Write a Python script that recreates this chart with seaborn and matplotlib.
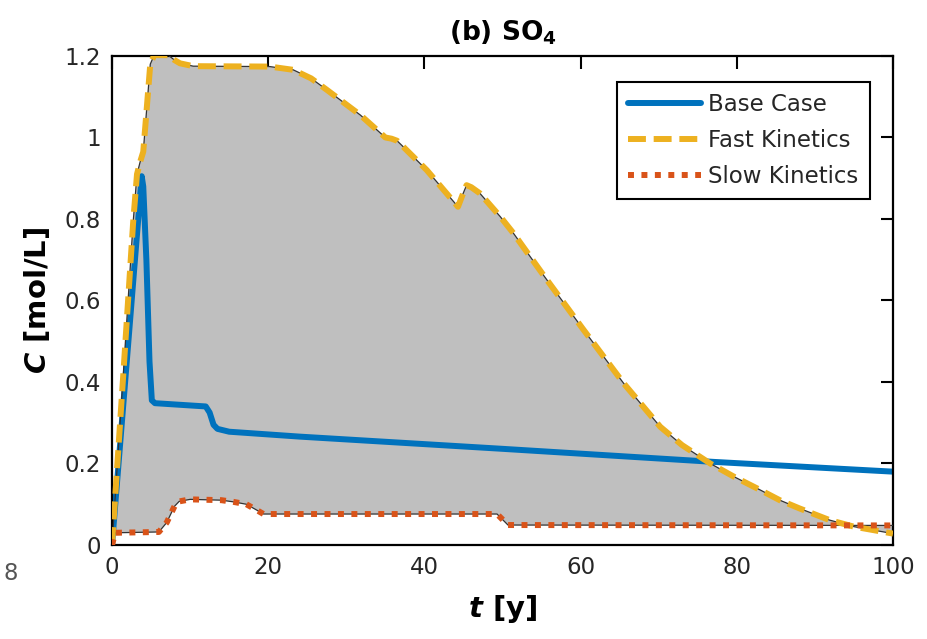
import numpy as np
import matplotlib
matplotlib.use("Agg")
import matplotlib.pyplot as plt
import seaborn as sns
from matplotlib.ticker import FuncFormatter

# ---------------- data ----------------
base_t = [0.0, 3.8, 4.0, 4.4, 4.8, 5.1, 5.5, 12.0, 12.5, 13.0, 13.5, 15.0, 24.0, 50.0, 77.0, 100.0]
base_c = [0.0, 0.905, 0.88, 0.70, 0.45, 0.355, 0.348, 0.340, 0.325, 0.295, 0.285, 0.278, 0.266, 0.236, 0.204, 0.180]

fast_t = [0.0, 1.45, 2.7, 3.2, 3.6, 4.0, 4.4, 4.9, 5.4, 7.2, 8.0, 8.7, 10.4, 20.2, 23.2, 25.5,
          27.5, 31.8, 35.0, 35.8, 36.5, 37.3, 40.3, 44.3, 44.9, 45.4, 46.0, 47.1, 49.7, 51.4,
          55.4, 60.3, 65.5, 70.2, 73.0, 76.6, 79.6, 83.0, 85.5, 88.0, 91.9, 95.0, 100.0]
fast_c = [0.0, 0.42, 0.79, 0.91, 0.94, 0.965, 1.06, 1.18, 1.202, 1.202, 1.19, 1.182, 1.175, 1.174, 1.166, 1.145,
          1.117, 1.055, 1.000, 0.997, 0.992, 0.977, 0.920, 0.830, 0.860, 0.883, 0.878, 0.863, 0.806, 0.765,
          0.658, 0.530, 0.397, 0.290, 0.245, 0.200, 0.168, 0.135, 0.110, 0.090, 0.061, 0.045, 0.028]

slow_t = [0.0, 0.4, 6.0, 7.0, 8.0, 8.6, 10.0, 14.0, 15.5, 17.2, 18.5, 19.4, 49.3, 50.7, 100.0]
slow_c = [0.0, 0.030, 0.032, 0.055, 0.095, 0.107, 0.112, 0.110, 0.106, 0.100, 0.086, 0.076, 0.076, 0.049, 0.048]

labels = ["Base Case", "Fast Kinetics", "Slow Kinetics"]
x_ticks = [0, 20, 40, 60, 80, 100]
y_ticks = [0, 0.2, 0.4, 0.6, 0.8, 1.0, 1.2]

# ---------------- style ----------------
sns.set_style("white")
plt.rcParams["font.family"] = ["DejaVu Sans"]
plt.rcParams["mathtext.fontset"] = "custom"
plt.rcParams["mathtext.rm"] = "DejaVu Sans:bold"
plt.rcParams["mathtext.bf"] = "DejaVu Sans:bold"
plt.rcParams["mathtext.it"] = "DejaVu Sans:italic:bold"

BLUE = "#0072BD"
ORANGE = "#EDB120"
RED = "#D95319"
TXT = "#262626"

fig = plt.figure(figsize=(9.28, 6.39), dpi=100)
ax = fig.add_axes([0.1207, 0.1471, 0.9623 - 0.1207, 0.9124 - 0.1471])

# shaded band between fast and slow kinetics
poly_x = np.concatenate([np.array(fast_t), np.array(slow_t)[::-1]])
poly_y = np.concatenate([np.array(fast_c), np.array(slow_c)[::-1]])
ax.fill(poly_x, poly_y, color="#BFBFBF", lw=0, zorder=1)

lw = 4.3
sns.lineplot(x=base_t, y=base_c, ax=ax, color=BLUE, lw=lw, estimator=None, zorder=2)
l_base = ax.lines[-1]

# thin dark edges of the band
ax.plot(fast_t, fast_c, color="#333333", lw=0.9, zorder=3)
ax.plot(slow_t, slow_c, color="#333333", lw=0.9, zorder=3)

sns.lineplot(x=fast_t, y=fast_c, ax=ax, color=ORANGE, lw=lw, estimator=None, zorder=4)
l_fast = ax.lines[-1]
l_fast.set_dashes((3, 1.3))
l_fast.set_dash_capstyle("butt")

sns.lineplot(x=slow_t, y=slow_c, ax=ax, color=RED, lw=lw, estimator=None, zorder=5)
l_slow = ax.lines[-1]
l_slow.set_dashes((1, 1.25))
l_slow.set_dash_capstyle("butt")

ax.set_xlim(0, 100)
ax.set_ylim(0, 1.2)
ax.set_xticks(x_ticks)
ax.set_yticks(y_ticks)
ax.yaxis.set_major_formatter(FuncFormatter(lambda v, p: "%g" % v))
ax.xaxis.set_major_formatter(FuncFormatter(lambda v, p: "%g" % v))

for s in ax.spines.values():
    s.set_visible(True)
    s.set_linewidth(1.6)
    s.set_color("black")
ax.tick_params(axis="both", which="major", direction="in", length=9, width=1.5,
               top=True, right=True, labelsize=16.5, labelcolor=TXT, color="black", pad=8)

ax.set_title("(b) SO$_4$", fontsize=19, fontweight="bold", color="black", pad=11)
ax.set_xlabel("$t$ [y]", fontsize=21, fontweight="bold", color="black", labelpad=10)
ax.set_ylabel("$C$ [mol/L]", fontsize=21, fontweight="bold", color="black", labelpad=9)

leg = ax.legend([l_base, l_fast, l_slow], labels, loc="upper right",
                bbox_to_anchor=(0.9706, 0.9468), bbox_transform=ax.transAxes,
                borderaxespad=0, fontsize=16.5, frameon=True, fancybox=False,
                framealpha=1, edgecolor="black", handlelength=3.2, handletextpad=0.3,
                labelspacing=0.55, borderpad=0.5)
leg.get_frame().set_linewidth(1.5)
for t in leg.get_texts():
    t.set_color(TXT)

# stray tick label from the neighbouring panel at the left edge
fig.text(0.004, 1 - 573 / 639, "8", fontsize=16.5, color="#555555", ha="left", va="center")

fig.savefig("out.png", dpi=100)
